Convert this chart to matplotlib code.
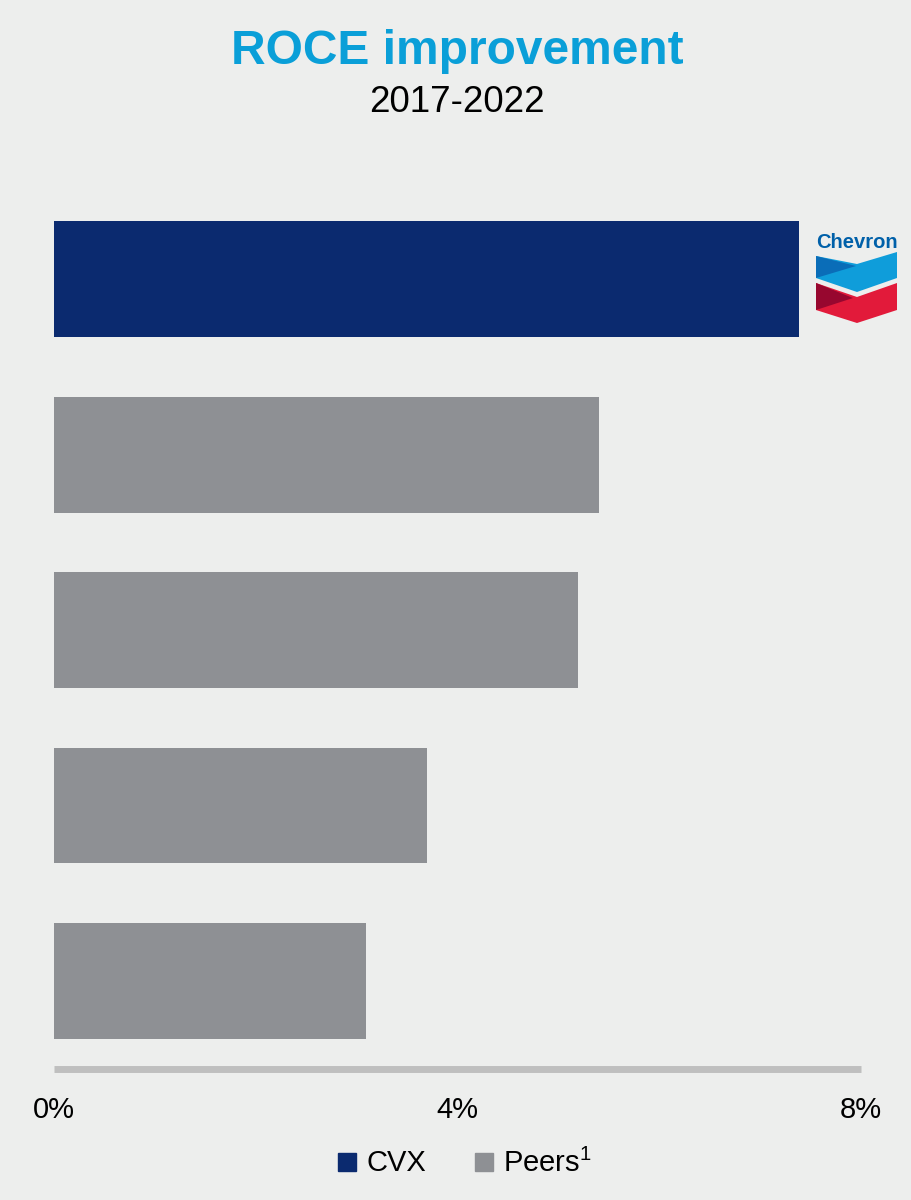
import matplotlib.pyplot as plt
from matplotlib.patches import Polygon, Rectangle

plt.rcParams['font.family'] = ['Liberation Sans', 'DejaVu Sans']

# Dane: poprawa ROCE 2017-2022 (%)
companies = ['CVX', 'Peer 1', 'Peer 2', 'Peer 3', 'Peer 4']
roce_gain = [7.39, 5.40, 5.19, 3.70, 3.09]
groups = ['CVX', 'Peers', 'Peers', 'Peers', 'Peers']
ticks = [0, 4, 8]
tick_labels = ['0%', '4%', '8%']

colors = {'CVX': '#0B2A6F', 'Peers': '#8E9094'}
bg = '#EDEEED'

fig = plt.figure(figsize=(9.11, 12), dpi=100, facecolor=bg)
ax = fig.add_axes([54 / 911, 1 - 1068.5 / 1200, 807 / 911, (1068.5 - 174) / 1200])
ax.set_facecolor(bg)

ypos = list(range(len(companies)))
ax.barh(ypos, roce_gain, height=0.66, color=[colors[g] for g in groups])

ax.set_xlim(0, 8)
ax.set_ylim(4.5, -0.6)
ax.set_yticks([])
ax.set_xticks(ticks)
ax.set_xticklabels(tick_labels, fontsize=21)
ax.tick_params(axis='x', length=0, pad=20)
for s in ['top', 'left', 'right']:
    ax.spines[s].set_visible(False)
ax.spines['bottom'].set_color('#BFBFBF')
ax.spines['bottom'].set_linewidth(5)
ax.spines['bottom'].set_capstyle('butt')

# Tytuł
fig.text(0.502, 1 - 52 / 1200, 'ROCE improvement', ha='center', va='center',
         fontsize=34.5, fontweight='bold', color='#0A9FD8')
fig.text(0.502, 1 - 102 / 1200, '2017-2022', ha='center', va='center',
         fontsize=26.5, color='black')

# Legenda
fig.patches.append(Rectangle((338 / 911, 1 - 1171 / 1200), 18 / 911, 18 / 1200,
                             transform=fig.transFigure, color=colors['CVX']))
fig.text(366 / 911, 1 - 1163 / 1200, 'CVX', ha='left', va='center', fontsize=21)
fig.patches.append(Rectangle((475 / 911, 1 - 1171 / 1200), 18 / 911, 18 / 1200,
                             transform=fig.transFigure, color=colors['Peers']))
fig.text(503 / 911, 1 - 1163 / 1200, r'Peers$^{\mathregular{1}}$', ha='left', va='center',
         fontsize=21)

# Logo Chevron
lax = fig.add_axes([808 / 911, 1 - 330 / 1200, 97 / 911, 105 / 1200])
lax.set_xlim(808, 905)
lax.set_ylim(330, 225)
lax.axis('off')
lax.text(857, 242, 'Chevron', ha='center', va='center', fontsize=14.5,
         fontweight='bold', color='#0060A9')
lax.add_patch(Polygon([(816, 256), (857, 264), (897, 252), (897, 278), (857, 292), (816, 278)],
                      closed=True, color='#0F9DDA', lw=0))
lax.add_patch(Polygon([(816, 256), (856, 266), (816, 278)],
                      closed=True, color='#0A6DB8', lw=0))
lax.add_patch(Polygon([(816, 283), (857, 297), (897, 283), (897, 310), (857, 323), (816, 310)],
                      closed=True, color='#E21A3A', lw=0))
lax.add_patch(Polygon([(816, 283), (853, 298), (816, 310)],
                      closed=True, color='#97072F', lw=0))

fig.savefig('out.png', dpi=100, facecolor=bg)
